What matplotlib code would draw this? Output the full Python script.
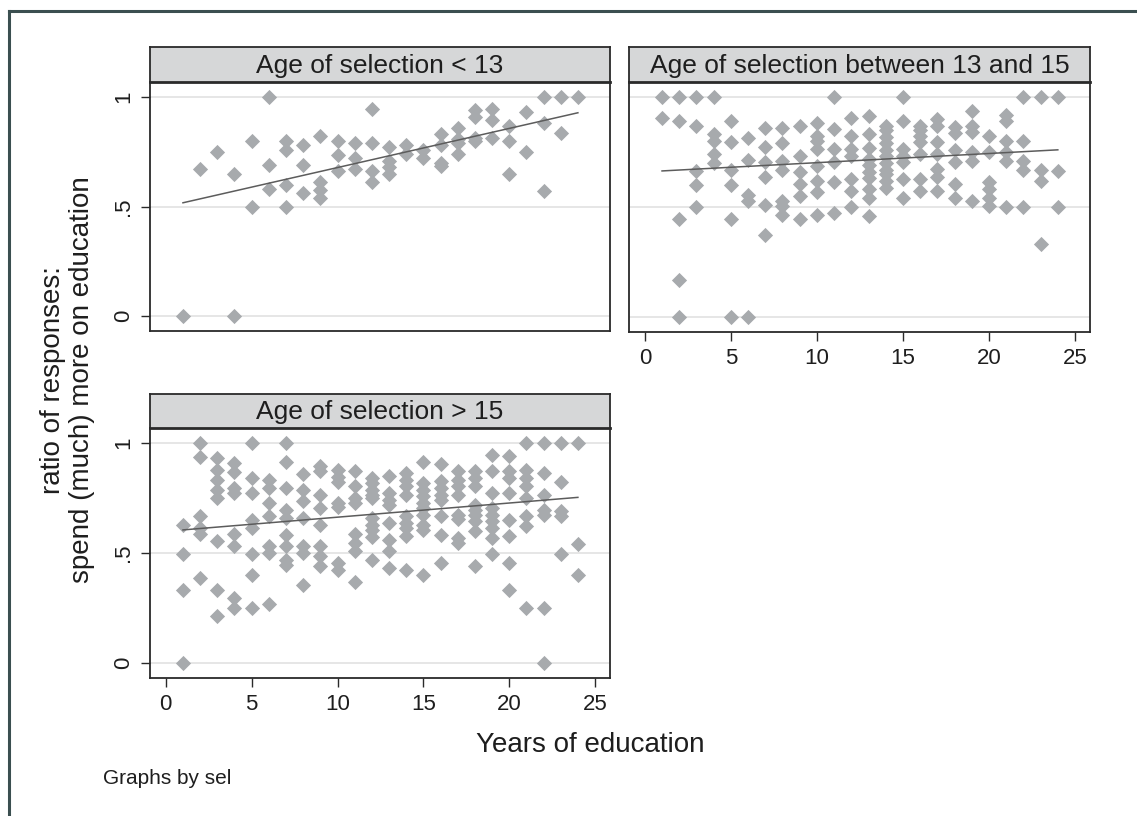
import numpy as np
import matplotlib
matplotlib.use("Agg")
import matplotlib.pyplot as plt
from matplotlib.lines import Line2D

plt.rcParams['font.family'] = ['Liberation Sans', 'DejaVu Sans']

# sel == 1 : age of selection < 13
years_lt13 = [1, 2, 3, 4, 4, 5, 5, 6, 6, 6,
              7, 7, 7, 7, 8, 8, 8, 9, 9, 9, 9,
              10, 10, 10, 11, 11, 11, 12, 12, 12, 12,
              13, 13, 13, 13, 14, 14, 15, 15,
              16, 16, 16, 16, 17, 17, 17, 17,
              18, 18, 18, 18, 19, 19, 19, 20, 20, 20,
              21, 21, 22, 22, 22, 23, 23, 24]
ratio_lt13 = [0, .67, .75, .65, 0, .80, .50, 1.0, .69, .58,
              .80, .76, .60, .50, .78, .69, .56, .82, .61, .575, .54,
              .80, .735, .66, .79, .72, .67, .945, .79, .66, .61,
              .77, .71, .68, .65, .78, .74, .76, .72,
              .83, .78, .70, .685, .857, .81, .79, .74,
              .94, .91, .815, .80, .944, .895, .815, .868, .80, .65,
              .933, .75, 1.0, .88, .57, 1.0, .834, 1.0]

# sel == 2 : age of selection between 13 and 15
years_13_15 = [1, 1,
               2, 2, 2, 2, 2,
               3, 3, 3, 3, 3,
               4, 4, 4, 4, 4,
               5, 5, 5, 5, 5, 5,
               6, 6, 6, 6, 6,
               7, 7, 7, 7, 7, 7,
               8, 8, 8, 8, 8, 8, 8,
               9, 9, 9, 9, 9, 9,
               10, 10, 10, 10, 10, 10, 10, 10,
               11, 11, 11, 11, 11, 11,
               12, 12, 12, 12, 12, 12, 12,
               13, 13, 13, 13, 13, 13, 13, 13, 13, 13,
               14, 14, 14, 14, 14, 14, 14, 14, 14, 14, 14,
               15, 15, 15, 15, 15, 15, 15,
               16, 16, 16, 16, 16, 16, 16,
               17, 17, 17, 17, 17, 17, 17,
               18, 18, 18, 18, 18, 18,
               19, 19, 19, 19, 19, 19,
               20, 20, 20, 20, 20, 20,
               21, 21, 21, 21, 21, 21,
               22, 22, 22, 22, 22,
               23, 23, 23, 23,
               24, 24, 24]
ratio_13_15 = [1.0, .904,
               1.0, .889, .444, .166, 0,
               1.0, .87, .665, .60, .50,
               1.0, .833, .80, .74, .70,
               .889, .797, .67, .60, .444, 0,
               .813, .714, .554, .528, 0,
               .858, .772, .703, .635, .51, .373,
               .858, .79, .71, .67, .528, .505, .463,
               .87, .73, .658, .604, .551, .447,
               .883, .825, .80, .764, .688, .62, .566, .463,
               1.0, .855, .764, .703, .612, .472,
               .904, .825, .764, .734, .627, .574, .502,
               .916, .83, .77, .72, .69, .66, .63, .58, .54, .46,
               .87, .85, .82, .79, .76, .73, .70, .67, .65, .62, .585,
               1.0, .893, .764, .73, .703, .627, .543,
               .87, .85, .825, .795, .74, .627, .574,
               .90, .87, .795, .74, .673, .635, .574,
               .863, .835, .757, .703, .604, .543,
               .935, .87, .84, .749, .71, .528,
               .825, .749, .612, .58, .543, .505,
               .919, .893, .802, .749, .71, .50,
               1.0, .802, .71, .67, .50,
               1.0, .67, .62, .33,
               1.0, .665, .50]

# sel == 3 : age of selection > 15
years_gt15 = [1, 1, 1, 1,
              2, 2, 2, 2, 2, 2,
              3, 3, 3, 3, 3, 3, 3, 3,
              4, 4, 4, 4, 4, 4, 4, 4,
              5, 5, 5, 5, 5, 5, 5, 5,
              6, 6, 6, 6, 6, 6, 6,
              7, 7, 7, 7, 7, 7, 7, 7, 7,
              8, 8, 8, 8, 8, 8, 8,
              9, 9, 9, 9, 9, 9, 9, 9,
              10, 10, 10, 10, 10, 10, 10,
              11, 11, 11, 11, 11, 11, 11, 11,
              12, 12, 12, 12, 12, 12, 12, 12, 12, 12,
              13, 13, 13, 13, 13, 13, 13, 13,
              14, 14, 14, 14, 14, 14, 14, 14, 14,
              15, 15, 15, 15, 15, 15, 15, 15, 15, 15,
              16, 16, 16, 16, 16, 16, 16, 16,
              17, 17, 17, 17, 17, 17, 17, 17,
              18, 18, 18, 18, 18, 18, 18, 18, 18,
              19, 19, 19, 19, 19, 19, 19, 19, 19,
              20, 20, 20, 20, 20, 20, 20, 20,
              21, 21, 21, 21, 21, 21, 21, 21,
              22, 22, 22, 22, 22, 22, 22,
              23, 23, 23, 23, 23,
              24, 24, 24]
ratio_gt15 = [.626, .497, .33, 0,
              1.0, .935, .667, .614, .586, .386,
              .932, .879, .833, .788, .75, .553, .333, .212,
              .909, .87, .795, .773, .586, .53, .295, .25,
              1.0, .84, .773, .65, .614, .497, .40, .25,
              .833, .795, .727, .67, .53, .50, .27,
              1.0, .914, .795, .697, .659, .583, .53, .47, .447,
              .859, .788, .738, .659, .53, .50, .353,
              .894, .871, .765, .705, .629, .53, .485, .44,
              .877, .847, .824, .726, .711, .453, .423,
              .874, .803, .75, .727, .586, .545, .508, .368,
              .84, .817, .786, .764, .748, .658, .627, .605, .574, .468,
              .848, .773, .742, .72, .636, .56, .508, .432,
              .864, .833, .803, .765, .667, .636, .614, .576, .424,
              .912, .818, .788, .758, .727, .705, .674, .629, .606, .40,
              .905, .826, .795, .765, .742, .667, .583, .455,
              .871, .833, .803, .765, .674, .655, .568, .545,
              .874, .841, .803, .72, .697, .674, .644, .598, .439,
              .947, .874, .773, .705, .674, .644, .614, .568, .495,
              .939, .871, .841, .773, .652, .576, .455, .33,
              1.0, .879, .841, .803, .75, .667, .621, .25,
              1.0, .864, .765, .697, .671, .25, 0,
              1.0, .823, .689, .667, .495,
              1.0, .541, .40]

# fitted values (lfit) at the ends of the education range
fit_years = [1, 24]
fit_lt13 = [.517, .928]
fit_13_15 = [.664, .760]
fit_gt15 = [.605, .753]

panel_titles = ["Age of selection < 13",
                "Age of selection between 13 and 15",
                "Age of selection > 15"]
y_ticks = [0, .5, 1]
y_ticklabels = ["0", ".5", "1"]
x_ticks = [0, 5, 10, 15, 20, 25]

W, H = 1137, 816
MARKER = '#a7aaad'
FIT = '#5c5c5c'
GRID = '#e2e2e2'
INK = '#1e1e1e'
SPINE = '#2a2a2a'

fig = plt.figure(figsize=(W / 100, H / 100), dpi=100)
fig.patch.set_facecolor('white')


def px_axes(left, top, right, bottom):
    return fig.add_axes([left / W, 1 - bottom / H, (right - left) / W, (bottom - top) / H])


def panel(box, strip_top, title, xs, ys, fit, show_x, show_y):
    left, top, right, bottom = box
    ax = px_axes(left, top, right, bottom)
    ax.set_xlim(-0.92, 25.87)
    ax.set_ylim(-0.0685, 1.0685)
    ax.set_yticks(y_ticks)
    ax.set_xticks(x_ticks)
    ax.grid(axis='y', color=GRID, lw=1.2)
    ax.grid(axis='x', visible=False)
    ax.set_axisbelow(True)
    for sp in ax.spines.values():
        sp.set_color(SPINE)
        sp.set_linewidth(1.3)
    ax.tick_params(length=6.8, width=1.0, color=SPINE, pad=4.5,
                   labelsize=16, labelcolor=INK)
    if show_y:
        ax.set_yticklabels(y_ticklabels, rotation=90, va='center')
    else:
        ax.tick_params(axis='y', left=False, labelleft=False)
    if not show_x:
        ax.tick_params(axis='x', bottom=False, labelbottom=False)

    ax.scatter(xs, ys, marker='D', s=60, color=MARKER, linewidths=0,
               zorder=3, clip_on=False)
    ax.plot(fit_years, fit, color=FIT, lw=1.1, zorder=4)

    st = px_axes(left, strip_top, right, top)
    st.set_facecolor('#d6d7d8')
    st.set_xticks([])
    st.set_yticks([])
    for sp in st.spines.values():
        sp.set_color(SPINE)
        sp.set_linewidth(1.3)
    st.spines['bottom'].set_linewidth(2.0)
    st.text(0.5, 0.47, title, transform=st.transAxes, ha='center', va='center',
            fontsize=19, color=INK)
    return ax


panel((150, 82, 610, 331), 47, panel_titles[0], years_lt13, ratio_lt13, fit_lt13, False, True)
panel((629, 82, 1090, 332), 47, panel_titles[1], years_13_15, ratio_13_15, fit_13_15, True, False)
panel((150, 428, 610, 678), 394, panel_titles[2], years_gt15, ratio_gt15, fit_gt15, True, True)

fig.text(68 / W, 1 - 380 / H, "ratio of responses:\nspend (much) more on education",
         rotation=90, ha='center', va='center', multialignment='center',
         fontsize=20, color=INK, linespacing=1.15)
fig.text(590 / W, 1 - 745 / H, "Years of education", ha='center', va='center',
         fontsize=20, color=INK)
fig.text(103 / W, 1 - 778 / H, "Graphs by sel", ha='left', va='center',
         fontsize=15, color=INK)

# outer frame: top and left edges only
frame = '#3b4f50'
fig.add_artist(Line2D([9 / W, 1], [1 - 11 / H, 1 - 11 / H], transform=fig.transFigure,
                      color=frame, lw=2.2))
fig.add_artist(Line2D([9 / W, 9 / W], [0, 1 - 11 / H], transform=fig.transFigure,
                      color=frame, lw=2.2))

fig.savefig("out.png", dpi=100)
